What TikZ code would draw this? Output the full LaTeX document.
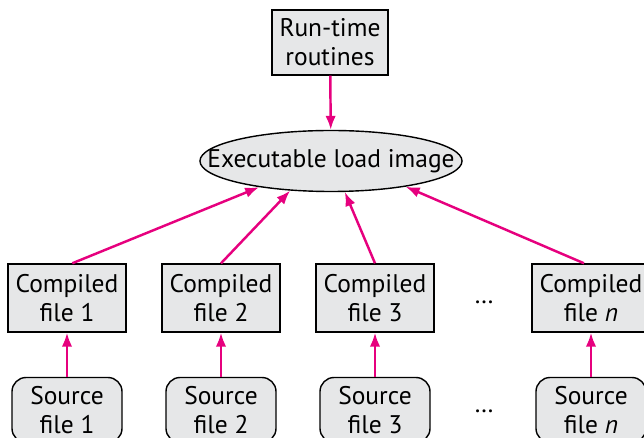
\documentclass[tikz,border=0pt]{standalone}
\usepackage{fontspec}
\setmainfont{PT Sans}
\usetikzlibrary{arrows.meta,shapes.geometric}
\definecolor{linkpink}{RGB}{230,0,126}
\definecolor{boxgray}{RGB}{230,231,232}

\begin{document}
\begin{tikzpicture}[font=\fontsize{14.5}{16.5}\selectfont,>={Latex[length=2.8mm,width=2.1mm]},link/.style={->, linkpink, line width=1.4pt},filebox/.style={draw, fill=boxgray, line width=0.8pt, align=center, minimum width=2.36cm, minimum height=1.36cm, inner sep=2pt},srcbox/.style={filebox, rounded corners=8pt, minimum width=2.2cm, minimum height=1.3cm}]
\useasboundingbox (0,0) rectangle (12.88,-8.76);
\node[filebox, minimum width=2.32cm, minimum height=1.3cm] (run) at (6.6,-0.85) {Run-time\\routines};
\node[ellipse, draw, fill=boxgray, line width=0.8pt, minimum width=5.16cm, minimum height=1.22cm, inner xsep=-0.62cm, inner ysep=0.15cm] (exe) at (6.62,-3.22) {Executable load image};
\node[filebox] (c1) at (1.34,-5.96) {Compiled\\file 1};\node[filebox] (c2) at (4.42,-5.96) {Compiled\\file 2};\node[filebox] (c3) at (7.5,-5.96) {Compiled\\file 3};\node[filebox] (cn) at (11.82,-5.96) {Compiled\\file \textit{n}};
\node[srcbox] (s1) at (1.34,-8.2) {Source\\file 1};\node[srcbox] (s2) at (4.42,-8.2) {Source\\file 2};\node[srcbox] (s3) at (7.5,-8.2) {Source\\file 3};\node[srcbox] (sn) at (11.82,-8.2) {Source\\file \textit{n}};
\node (cdots) at (9.68,-6.04) {\dots};\node (sdots) at (9.68,-8.22) {\dots};
\draw[link] (run) -- (exe);
\draw[link] ([xshift=3pt]c1.north) -- (exe.200);\draw[link] (c2.north) -- (exe.216);\draw[link] (c3.north) -- (exe.294);\draw[link] ([xshift=-4pt]cn.north) -- (exe.341);
\foreach \i in {1,2,3,n}\draw[link] (s\i) -- (c\i);
\end{tikzpicture}
\end{document}
